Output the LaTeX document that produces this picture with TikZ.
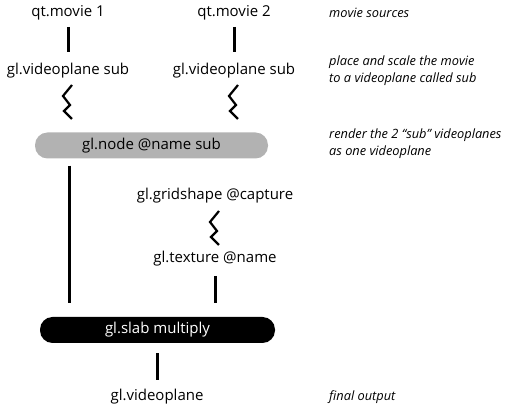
\documentclass[tikz,border=0pt]{standalone}
\usepackage{fontspec}
\setmainfont{Open Sans}
\begin{document}
\begin{tikzpicture}[x=1pt,y=-1pt,
  lbl/.style={inner sep=0pt,font=\fontsize{15}{17}\selectfont},
  note/.style={inner sep=0pt,anchor=west,align=left,font=\fontsize{12.8}{17}\selectfont\itshape},
  conn/.style={line width=3pt},
  zig/.style={line width=2.2pt,line join=miter},
  pill/.style={rounded corners=12.5pt,minimum height=26pt,inner sep=0pt,font=\fontsize{15}{17}\selectfont}]
\useasboundingbox (0,0) rectangle (515,411);
% nodes
\node[lbl] (m1) at (68,13) {qt.movie 1};
\node[lbl] (m2) at (234,13) {qt.movie 2};
\node[lbl] (v1) at (68,71) {gl.videoplane sub};
\node[lbl] (v2) at (234,71) {gl.videoplane sub};
\node[pill,fill=black!30,minimum width=233pt] (gn) at (151.5,145.5) {gl.node @name sub};
\node[lbl] (gs) at (215,196) {gl.gridshape @capture};
\node[lbl] (tx) at (215,259) {gl.texture @name};
\node[pill,fill=black,text=white,minimum width=235pt] (sl) at (157.5,330) {gl.slab multiply};
\node[lbl] (out) at (157,397) {gl.videoplane};
% notes
\node[note] (n1) at (329,13) {movie sources};
\node[note] (n2) at (329,71) {place and scale the movie\\to a videoplane called sub};
\node[note] (n3) at (329,143.5) {render the 2 “sub” videoplanes\\as one videoplane};
\node[note] (n4) at (329,397) {final output};
% connectors
\draw[conn] (m1.south |- 0,27) -- (v1.north |- 0,52);
\draw[conn] (m2.south |- 0,27) -- (v2.north |- 0,52);
\draw[conn] (gn.south -| 69,0) ++(0,7) -- (69,303);
\draw[conn] (tx.south |- 0,276) -- (tx.south |- 0,303);
\draw[conn] (sl.south -| 157,0) ++(0,10) -- (out.north |- 0,380);
% zigzags
\foreach \cx/\cy in {68/85, 234/85, 215/211} {
  \draw[zig] (\cx+4,\cy) -- (\cx-5,\cy+11) -- (\cx+2,\cy+20) -- (\cx-4,\cy+26) -- (\cx+4,\cy+34);
}
\end{tikzpicture}
\end{document}
